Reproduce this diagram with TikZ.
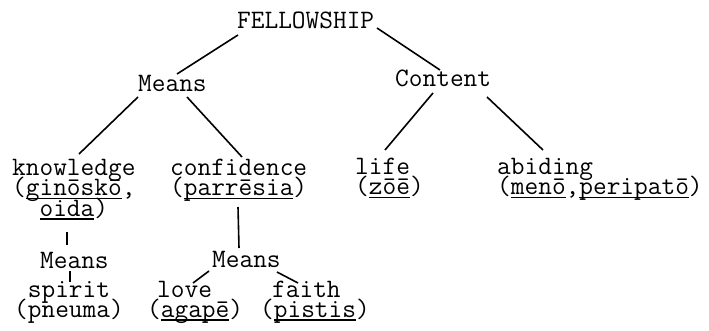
\documentclass[tikz,border=0pt]{standalone}
\newcommand\gk[1]{\setbox0\hbox{#1}\rlap{\rule[-3.5pt]{\wd0}{1.1pt}}\box0}
\newcommand\stk[1]{\vtop{\baselineskip=20pt\lineskiplimit=-100pt\lineskip=0pt\halign{##\hfil\cr#1\crcr}}}
\begin{document}
\begin{tikzpicture}[x=1pt,y=-1pt,
  every node/.style={inner sep=0pt, anchor=base west, font=\fontsize{26.6}{20}\selectfont\ttfamily},
  link/.style={line width=1.6pt}]
\useasboundingbox (0,0) rectangle (709,331);
\node (F) at (237,29) {FELLOWSHIP};
\node (M1) at (138,92) {Means};
\node (C) at (395,87) {Content};
\node (K) at (12,176) {\stk{knowledge\cr(\gk{ginōskō},\cr\hphantom{xx}\gk{oida})}};
\node (Cf) at (170,176) {\stk{confidence\cr(\gk{parrēsia})}};
\node (L) at (355,175) {\stk{life\cr(\gk{zōē})}};
\node (A) at (497,175) {\stk{abiding\cr(\gk{menō},\gk{peripatō})}};
\node (M2) at (40,268) {Means};
\node (S) at (14,297) {\stk{\hphantom{x}spirit\cr(pneuma)}};
\node (M3) at (212,267) {Means};
\node (Lv) at (147,297) {\stk{\hspace*{10pt}love\cr(\gk{agapē})}};
\node (Fa) at (260,297) {\stk{\hspace*{12pt}faith\cr(\gk{pistis})}};
\draw[link] ([shift={(1,6)}]F.base west) -- ([shift={(39,-18)}]M1.base west);
\draw[link] ([shift={(140,-1)}]F.base west) -- ([shift={(45,-17)}]C.base west);
\draw[link] ([shift={(0,5)}]M1.base west) -- ([shift={(67,-22)}]K.base west);
\draw[link] ([shift={(49,5)}]M1.base west) -- ([shift={(72,-19)}]Cf.base west);
\draw[link] ([shift={(38,6)}]C.base west) -- ([shift={(30,-25)}]L.base west);
\draw[link] ([shift={(92,10)}]C.base west) -- ([shift={(46,-25)}]A.base west);
\draw[link] ([shift={(55,56)}]K.base west) -- ([shift={(27,-23)}]M2.base west);
\draw[link] ([shift={(30,3)}]M2.base west) -- ([shift={(56,-15)}]S.base west);
\draw[link] ([shift={(68,31)}]Cf.base west) -- ([shift={(27,-19)}]M3.base west);
\draw[link] ([shift={(-3,4)}]M3.base west) -- ([shift={(46,-14)}]Lv.base west);
\draw[link] ([shift={(65,5)}]M3.base west) -- ([shift={(38,-14)}]Fa.base west);
\end{tikzpicture}
\end{document}
